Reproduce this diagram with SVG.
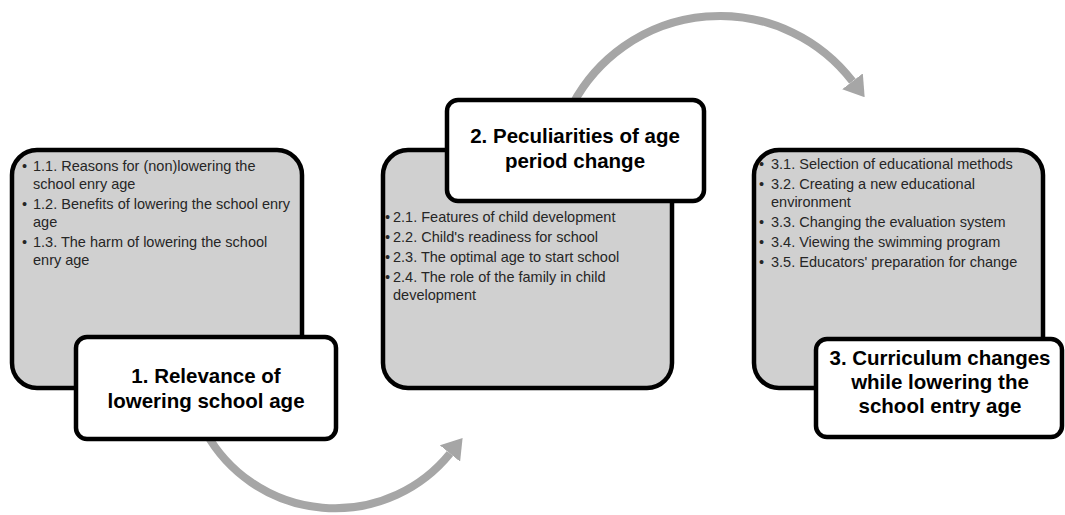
<svg xmlns="http://www.w3.org/2000/svg" width="1065" height="515" viewBox="0 0 1065 515">
<defs>
<style>
.panel{fill:#d0d0d0;stroke:#000;stroke-width:4.5}
.label{fill:#fff;stroke:#000;stroke-width:4.5}
.item{font-family:"Liberation Sans",Arial,sans-serif;font-size:14.5px;fill:#262626}
.title{font-family:"Liberation Sans",Arial,sans-serif;font-size:20.5px;font-weight:bold;fill:#000;text-anchor:middle}
.arc{fill:none;stroke:#a6a6a6;stroke-width:8}
</style>
<marker id="ah" markerUnits="userSpaceOnUse" markerWidth="20" markerHeight="26" viewBox="0 0 20 26" refX="0" refY="13" orient="auto">
<path d="M0,0 L20,13 L0,26 Z" fill="#a6a6a6"/>
</marker>
</defs>
<g id="connectors">
<path class="arc" d="M572.5,104.6 A167,167 0 0 1 852.5,81.3" marker-end="url(#ah)"/>
<path class="arc" d="M205.9,432.6 A148,148 0 0 0 450,453.5" marker-end="url(#ah)"/>
</g>
<g id="node1">
<rect class="panel" x="12" y="150" width="290" height="238" rx="25"/>
<text class="item"><tspan x="22" y="171">•</tspan><tspan x="33" y="171">1.1. Reasons for (non)lowering the</tspan><tspan x="33" y="189">school enry age</tspan><tspan x="22" y="209">•</tspan><tspan x="33" y="209">1.2. Benefits of lowering the school enry</tspan><tspan x="33" y="227">age</tspan><tspan x="22" y="247">•</tspan><tspan x="33" y="247">1.3. The harm of lowering the school</tspan><tspan x="33" y="265">enry age</tspan></text>
<rect class="label" x="76" y="337" width="260" height="102" rx="11"/>
<text class="title"><tspan x="206" y="383">1. Relevance of</tspan><tspan x="206" y="408">lowering school age</tspan></text>
</g>
<g id="node2">
<rect class="panel" x="383" y="150" width="289" height="238" rx="25"/>
<text class="item"><tspan x="385" y="222">•</tspan><tspan x="393" y="222">2.1. Features of child development</tspan><tspan x="385" y="242">•</tspan><tspan x="393" y="242">2.2. Child's readiness for school</tspan><tspan x="385" y="262">•</tspan><tspan x="393" y="262">2.3. The optimal age to start school</tspan><tspan x="385" y="282">•</tspan><tspan x="393" y="282">2.4. The role of the family in child</tspan><tspan x="393" y="300">development</tspan></text>
<rect class="label" x="447" y="100" width="257" height="101" rx="11"/>
<text class="title"><tspan x="575" y="143">2. Peculiarities of age</tspan><tspan x="575" y="168">period change</tspan></text>
</g>
<g id="node3">
<rect class="panel" x="754" y="150" width="289" height="238" rx="25"/>
<text class="item"><tspan x="759" y="169">•</tspan><tspan x="771" y="169">3.1. Selection of educational methods</tspan><tspan x="759" y="189">•</tspan><tspan x="771" y="189">3.2. Creating a new educational</tspan><tspan x="771" y="207">environment</tspan><tspan x="759" y="227">•</tspan><tspan x="771" y="227">3.3. Changing the evaluation system</tspan><tspan x="759" y="247">•</tspan><tspan x="771" y="247">3.4. Viewing the swimming program</tspan><tspan x="759" y="267">•</tspan><tspan x="771" y="267">3.5. Educators' preparation for change</tspan></text>
<rect class="label" x="816" y="339" width="246" height="98" rx="11"/>
<text class="title"><tspan x="940" y="365">3. Curriculum changes</tspan><tspan x="940" y="389">while lowering the</tspan><tspan x="940" y="413">school entry age</tspan></text>
</g>
</svg>
